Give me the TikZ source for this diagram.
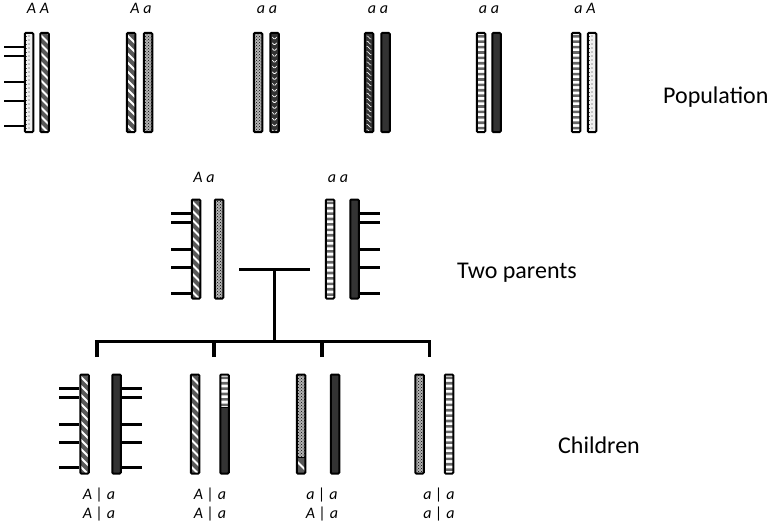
\documentclass[tikz,border=0pt]{standalone}
\usepackage{fontspec}
\setmainfont{Carlito}
\usetikzlibrary{patterns}

\tikzset{
  chrom/.style={draw, line width=2pt, rounded corners=1pt, minimum width=8.5pt,
    minimum height=99pt, inner sep=0pt},
  darkfill/.style={fill=black!80},
  hatchfill/.style={fill=black!65, path picture={
    \foreach \k in {-1,...,12}
      \draw[white, line width=1.8pt] ([shift={(-6pt,{-9pt*\k})}]path picture bounding box.north) -- ++(12pt,-12pt);}},
  checkfill/.style={preaction={fill=gray!60}, pattern=crosshatch dots, pattern color=black},
  dotfill/.style={fill=gray!12, path picture={
    \foreach \k in {0,...,24} {
      \fill[black!75] ([yshift={-3pt-4pt*\k}]path picture bounding box.north) circle (0.55pt);
      \draw[black!75, line width=0.5pt] ([yshift={-3pt-4pt*\k}]path picture bounding box.north west) -- ++(1.8pt,0);}}},
  chevfill/.style={fill=black!80, path picture={
    \foreach \k in {0,...,16}
      \draw[white, line width=0.7pt] ([shift={(-2.2pt,{-4pt-5.8pt*\k})}]path picture bounding box.north) -- ++(2.2pt,-2.5pt) -- ++(2.2pt,2.5pt);}},
  wavefill/.style={fill=black!80, path picture={
    \foreach \k in {0,...,18}
      \draw[white, line width=0.6pt] ([shift={(-2.4pt,{-3pt-5.2pt*\k})}]path picture bounding box.north)
        .. controls +(1.8pt,0.8pt) and +(-1.8pt,-0.8pt) .. ++(4.8pt,-3pt);}},
  stripefill/.style={fill=white, path picture={
    \foreach \k in {0,...,18}
      \fill[black!60] ([yshift={-2pt-5.4pt*\k}]path picture bounding box.north west) rectangle ++(12pt,-2.6pt);}},
  tick/.style={line width=2.2pt},
  tree/.style={line width=3.8pt, line join=miter},
  allele/.style={font=\itshape\fontsize{16}{18}\selectfont, anchor=base, inner sep=0pt},
  caption/.style={font=\fontsize{24}{28}\selectfont, anchor=base west, inner sep=0pt}
}

\begin{document}
\begin{tikzpicture}[x=1pt, y=-1pt]
  \useasboundingbox (0,0) rectangle (774,527);

  % population
  \node[chrom, dotfill]    (pop1a) at (29,82.5) {};
  \node[chrom, hatchfill]  (pop1b) at (44.5,82.5) {};
  \node[chrom, hatchfill]  (pop2a) at (131,82.5) {};
  \node[chrom, checkfill]  (pop2b) at (148,82.5) {};
  \node[chrom, checkfill]  (pop3a) at (258,82.5) {};
  \node[chrom, chevfill]   (pop3b) at (274.5,82.5) {};
  \node[chrom, wavefill]   (pop4a) at (369,82.5) {};
  \node[chrom, darkfill]   (pop4b) at (385.5,82.5) {};
  \node[chrom, stripefill] (pop5a) at (481,82.5) {};
  \node[chrom, darkfill]   (pop5b) at (496.5,82.5) {};
  \node[chrom, stripefill] (pop6a) at (576,82.5) {};
  \node[chrom, dotfill]    (pop6b) at (592,82.5) {};
  \foreach \t in {15,24,50,69,94}
    \draw[tick] ([yshift=-\t pt]pop1a.north west) -- ++(-20pt,0);

  \node[allele] (lab1) at (38,14) {A A};
  \node[allele] (lab2) at (141,14) {A a};
  \node[allele] (lab3) at (267,14) {a a};
  \node[allele] (lab4) at (378,14) {a a};
  \node[allele] (lab5) at (489,14) {a a};
  \node[allele] (lab6) at (585,14) {a A};
  \node[caption] (poptext) at (663,103) {Population};

  % two parents
  \node[chrom, hatchfill]  (mom1) at (196,249) {};
  \node[chrom, checkfill]  (mom2) at (219,249) {};
  \node[chrom, stripefill] (dad1) at (330,249) {};
  \node[chrom, darkfill]   (dad2) at (354.5,249) {};
  \foreach \t in {15,24,51,69,95} {
    \draw[tick] ([yshift=-\t pt]mom1.north west) -- ++(-20pt,0);
    \draw[tick] ([yshift=-\t pt]dad2.north east) -- ++(20pt,0);
  }
  \node[allele] (mlab) at (204,182) {A a};
  \node[allele] (dlab) at (338,182) {a a};
  \node[caption] (partext) at (457,278) {Two parents};

  % crossing
  \coordinate (barl) at (239,269.5);
  \coordinate (barr) at (310,269.5);
  \coordinate (stem) at (274.5,269.5);
  \coordinate (bus)  at (274.5,341.5);
  \coordinate (k1) at (97,357);
  \coordinate (k2) at (214,357);
  \coordinate (k3) at (322,357);
  \coordinate (k4) at (429.5,357);
  \draw[tree] (barl) -- (barr);
  \draw[tree] (stem) -- (bus);
  \draw[tree] (k1) -- (k1 |- bus) -- (k4 |- bus) -- (k4);
  \draw[tree] (k2) -- (k2 |- bus);
  \draw[tree] (k3) -- (k3 |- bus);

  % children
  \node[chrom, hatchfill]  (kid1a) at (84.5,424) {};
  \node[chrom, darkfill]   (kid1b) at (116.5,424) {};
  \node[chrom, hatchfill]  (kid2a) at (195,424) {};
  \node[chrom, darkfill, path picture={
    \fill[white] (path picture bounding box.north west) rectangle ([yshift=-33pt]path picture bounding box.north east);
    \foreach \k in {0,...,5}
      \fill[black!60] ([yshift={-2pt-5.4pt*\k}]path picture bounding box.north west) rectangle ++(12pt,-2.6pt);
    \draw[line width=1.4pt] ([yshift=-33pt]path picture bounding box.north west) -- ++(12pt,0);}]
    (kid2b) at (224.5,424) {};
  \node[chrom, checkfill, path picture={
    \fill[black!65] ([yshift=16pt]path picture bounding box.south west) rectangle (path picture bounding box.south east);
    \draw[white, line width=1.8pt] ([shift={(-6pt,14pt)}]path picture bounding box.south) -- ++(12pt,-12pt);
    \draw[line width=1.4pt] ([yshift=16pt]path picture bounding box.south west) -- ++(12pt,0);}]
    (kid3a) at (301,424) {};
  \node[chrom, darkfill]   (kid3b) at (335,424) {};
  \node[chrom, checkfill]  (kid4a) at (419.5,424) {};
  \node[chrom, stripefill] (kid4b) at (449,424) {};
  \foreach \t in {15,24,51,69,94} {
    \draw[tick] ([yshift=-\t pt]kid1a.north west) -- ++(-20pt,0);
    \draw[tick] ([yshift=-\t pt]kid1b.north east) -- ++(20pt,0);
  }

  \node[allele] (k1up) at (99,499) {A | a};
  \node[allele] (k1lo) at (99,518) {A | a};
  \node[allele] (k2up) at (210,499) {A | a};
  \node[allele] (k2lo) at (210,518) {A | a};
  \node[allele] (k3up) at (322,499) {a | a};
  \node[allele] (k3lo) at (322,518) {A | a};
  \node[allele] (k4up) at (439,499) {a | a};
  \node[allele] (k4lo) at (439,518) {a | a};
  \node[caption] (kidtext) at (558,453) {Children};
\end{tikzpicture}
\end{document}
